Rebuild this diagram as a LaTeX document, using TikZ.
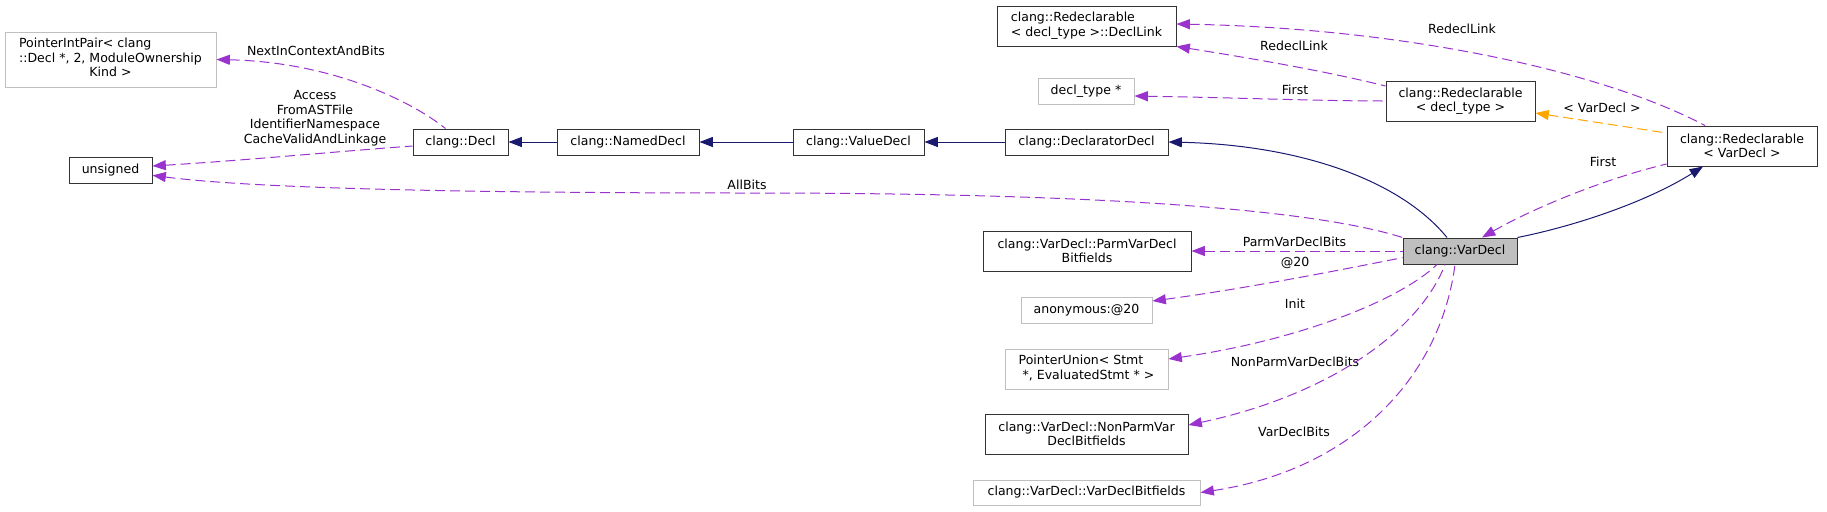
\documentclass[tikz,border=0pt]{standalone}
\usepackage{fontspec}
\setmainfont{DejaVu Sans}
\usetikzlibrary{arrows.meta}

\newlength\pxl
\setlength\pxl{0.75pt}
\definecolor{edgenavy}{HTML}{191970}
\definecolor{edgepurple}{HTML}{9A32CD}
\definecolor{edgeorange}{HTML}{FFA500}
\definecolor{boxgray}{HTML}{BFBFBF}

\begin{document}
\begin{tikzpicture}[x=0.75pt, y=-0.75pt,
    font=\fontsize{9.4pt}{10.9pt}\selectfont,
    box/.style={rectangle, draw=black!80, line width=0.75pt, inner sep=0pt, align=center},
    extbox/.style={box, draw=boxgray},
    curbox/.style={box, fill=boxgray},
    inh/.style={draw=edgenavy, line width=0.75pt, {Triangle[length=10pt,width=7.5pt]}-},
    use/.style={draw=edgepurple, line width=0.75pt, dash pattern=on 7.5pt off 3.75pt,
                {Triangle[length=10pt,width=7.5pt]}-},
    tmpl/.style={use, draw=edgeorange},
    lbl/.style={inner sep=0pt, align=center}]
\useasboundingbox (0,0) rectangle (1827,511);

% classes
\node[extbox, minimum width=211\pxl, minimum height=55\pxl] (pip) at (110.5,59.5)
    {\begin{tabular}{@{}l@{}}PointerIntPair< clang\\::Decl *, 2, ModuleOwnership\\\multicolumn{1}{@{}c@{}}{Kind >}\end{tabular}};
\node[box, minimum width=83\pxl, minimum height=26\pxl] (uns) at (110.5,170) {unsigned};
\node[box, minimum width=95\pxl, minimum height=26\pxl] (decl) at (460.5,142) {clang::Decl};
\node[box, minimum width=142\pxl, minimum height=26\pxl] (named) at (628,142) {clang::NamedDecl};
\node[box, minimum width=131\pxl, minimum height=26\pxl] (value) at (858.5,142) {clang::ValueDecl};
\node[box, minimum width=163\pxl, minimum height=26\pxl] (declarator) at (1086.5,142) {clang::DeclaratorDecl};
\node[box, minimum width=179\pxl, minimum height=40\pxl] (link) at (1086.5,26)
    {\begin{tabular}{@{}l@{}}clang::Redeclarable\\< decl\_type >::DeclLink\end{tabular}};
\node[extbox, minimum width=96\pxl, minimum height=26\pxl] (dtype) at (1086,91) {decl\_type *};
\node[box, minimum width=149\pxl, minimum height=40\pxl] (rdt) at (1460.5,101) {clang::Redeclarable\\< decl\_type >};
\node[box, minimum width=150\pxl, minimum height=40\pxl] (rvd) at (1742,146) {clang::Redeclarable\\< VarDecl >};
\node[curbox, minimum width=114\pxl, minimum height=26\pxl] (vd) at (1460,251) {clang::VarDecl};
\node[box, minimum width=208\pxl, minimum height=40\pxl] (parm) at (1087,251) {clang::VarDecl::ParmVarDecl\\Bitfields};
\node[extbox, minimum width=131\pxl, minimum height=26\pxl] (anon) at (1086.5,310) {anonymous:@20};
\node[extbox, minimum width=163\pxl, minimum height=40\pxl] (pu) at (1086.5,369)
    {\begin{tabular}{@{}l@{}}PointerUnion< Stmt\\\ *, EvaluatedStmt * >\end{tabular}};
\node[box, minimum width=203\pxl, minimum height=40\pxl] (nonparm) at (1086.5,434) {clang::VarDecl::NonParmVar\\DeclBitfields};
\node[extbox, minimum width=227\pxl, minimum height=25\pxl] (vdb) at (1086.5,492.5) {clang::VarDecl::VarDeclBitfields};

% edge labels
\node[lbl] (lnext) at (316,51) {NextInContextAndBits};
\node[lbl] (lacc) at (315,118) {Access\\FromASTFile\\IdentifierNamespace\\CacheValidAndLinkage};
\node[lbl] (lall) at (747,185) {AllBits};
\node[lbl] (lrlone) at (1462,29) {RedeclLink};
\node[lbl] (lrltwo) at (1294,46) {RedeclLink};
\node[lbl] (lfirstone) at (1295,90) {First};
\node[lbl] (ltmpl) at (1602,108) {< VarDecl >};
\node[lbl] (lfirsttwo) at (1603,162) {First};
\node[lbl] (lparm) at (1294.5,242) {ParmVarDeclBits};
\node[lbl] (lanon) at (1295,263) {@20};
\node[lbl] (linit) at (1295,304) {Init};
\node[lbl] (lnon) at (1295,362) {NonParmVarDeclBits};
\node[lbl] (lvdb) at (1294,432) {VarDeclBits};

% inheritance
\draw[inh] (decl.east) -- (named.west);
\draw[inh] (named.east) -- (value.west);
\draw[inh] (value.east) -- (declarator.west);
\draw[inh] (declarator.east) .. controls (1300,145) and (1400,180) .. ([xshift=-13\pxl]vd.north);
\draw[inh] ([xshift=-39\pxl]rvd.south) .. controls (1650,200) and (1580,225) .. (vd.north east);

% usage
\draw[use] (pip.east) .. controls (330,62) and (410,100) .. ([xshift=-15\pxl]decl.north);
\draw[use] ([yshift=3pt]uns.east) .. controls (250,160) and (330,152) .. ([yshift=-3pt]decl.west);
\draw[use] ([yshift=-4pt]uns.east) .. controls (250,188) and (450,193) .. (750,193)
    .. controls (1050,193) and (1300,205) .. (vd.north west);
\draw[use] (parm.east) -- (vd.west);
\draw[use] ([yshift=6.75pt]anon.east) .. controls (1250,288) and (1350,268) .. ([yshift=-5pt]vd.west);
\draw[use] ([yshift=7.5pt]pu.east) .. controls (1300,340) and (1400,300) .. ([xshift=-23\pxl]vd.south);
\draw[use] ([yshift=6.75pt]nonparm.east) .. controls (1330,395) and (1420,330) .. ([xshift=-15\pxl]vd.south);
\draw[use] (vdb.east) .. controls (1350,470) and (1440,380) .. ([xshift=-5\pxl]vd.south);
\draw[use] (link.south east) .. controls (1250,58) and (1330,72) .. ([yshift=11.25pt]rdt.west);
\draw[use] ([yshift=-3.75pt]dtype.east) .. controls (1250,98) and (1320,101) .. (rdt.west);
\draw[use] ([yshift=1.5pt]link.east) .. controls (1400,28) and (1600,70) .. ([xshift=-37\pxl]rvd.north);
\draw[tmpl] ([yshift=-9pt]rdt.east) -- ([yshift=9.75pt]rvd.west);
\draw[use] ([xshift=22\pxl]vd.north) .. controls (1530,210) and (1600,180) .. ([yshift=-13.5pt]rvd.west);
\end{tikzpicture}
\end{document}
